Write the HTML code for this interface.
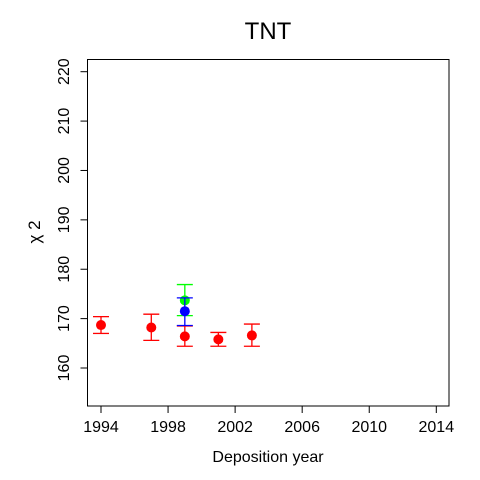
<!DOCTYPE html>
<html><head><meta charset="utf-8"><style>
body{margin:0;background:#fff}
svg{display:block;font-family:"Liberation Sans",sans-serif}
</style></head><body>
<svg id="chart" width="480" height="480" viewBox="0 0 480 480">
<text x="268" y="39" font-size="24" text-anchor="middle">TNT</text>
<rect x="87.5" y="59.5" width="361.5" height="346.5" fill="none" stroke="#000" stroke-width="1"/>
<g id="xaxis"></g>
<g id="yaxis"></g>
<text x="268" y="462" font-size="16" text-anchor="middle">Deposition year</text>
<text transform="translate(40,232) rotate(-90)" font-size="17" text-anchor="middle">χ 2</text>
<g id="marks"></g>
</svg>
<script>
const xTicks=[1994,1998,2002,2006,2010,2014];
const yTicks=[160,170,180,190,200,210,220];
const years=[1994,1997,1999,2001,2003,1999,1999];
const values=[168.7,168.2,166.4,165.8,166.6,173.7,171.5];
const upper=[170.4,170.9,168.5,167.2,168.9,176.9,174.2];
const lower=[167.0,165.6,164.4,164.4,164.4,170.6,168.6];
const colors=["red","red","red","red","red","#00ff00","blue"];
const X=v=>101+(v-1994)*(335.3/20);
const Y=v=>368-(v-160)*(296.3/60);
const NS="http://www.w3.org/2000/svg";
function mk(t,a,p){const e=document.createElementNS(NS,t);for(const k in a)e.setAttribute(k,a[k]);p.appendChild(e);return e;}
const xa=document.getElementById('xaxis'),ya=document.getElementById('yaxis'),m=document.getElementById('marks');
mk('line',{x1:X(1994),x2:X(2014),y1:406,y2:406,stroke:'#000'},xa);
xTicks.forEach(t=>{
 const l=mk('line',{x1:X(t),x2:X(t),y1:406,y2:413,stroke:'#000'},xa);
 
 
 const tx=mk('text',{x:X(t),y:432,'font-size':'16','text-anchor':'middle'},xa);tx.textContent=t;
 
 
});
mk('line',{x1:87.5,x2:87.5,y1:Y(160),y2:Y(220),stroke:'#000'},ya);
yTicks.forEach(t=>{
 const l=mk('line',{x1:80.5,x2:87.5,y1:Y(t),y2:Y(t),stroke:'#000'},ya);
 
 
 const tx=mk('text',{transform:`translate(69,${Y(t)}) rotate(-90)`,'font-size':'16','text-anchor':'middle'},ya);tx.textContent=t;
 
 
});
years.forEach((yr,i)=>{
 const g=mk('g',{stroke:colors[i],'stroke-width':'1.3',fill:colors[i]},m);
 
 
 const x=X(yr);
 mk('line',{x1:x,x2:x,y1:Y(upper[i]),y2:Y(lower[i])},g);
 mk('line',{x1:x-8,x2:x+8,y1:Y(upper[i]),y2:Y(upper[i])},g);
 mk('line',{x1:x-8,x2:x+8,y1:Y(lower[i]),y2:Y(lower[i])},g);
 mk('circle',{cx:x,cy:Y(values[i]),r:5,stroke:'none'},g);
});
</script>
</body></html>
